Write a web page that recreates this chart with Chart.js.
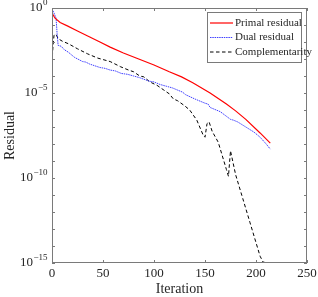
<!DOCTYPE html>
<html><head><meta charset="utf-8">
<script src="https://cdn.jsdelivr.net/npm/chart.js@4"></script>
<style>html,body{margin:0;padding:0;background:#fff;overflow:hidden}</style>
</head><body>
<canvas id="c" width="318" height="297"></canvas>
<script>
// ---- data (exponents: value = 10^exp) ----
const primalIter = [0,3,8,15,25,35,47,57,70,85,100,115,127,138,155,171,180,190,204,214];
const primalExp  = [-0.3,-0.6,-0.85,-1.05,-1.35,-1.65,-2.0,-2.3,-2.65,-3.0,-3.35,-3.75,-4.05,-4.4,-5.0,-5.65,-6.05,-6.55,-7.35,-7.95];

const dualIter = [0,2,4,5,6,9,12,16,22,30,33,37,47,52,57,62,68,74,80,86,95,100,106,112,118,126,128,131,140,150,153,155,165,175,178,182,190,198,204,210,214];
const dualExp  = [-0.05,-0.3,-0.6,-1.5,-2.2,-2.25,-2.45,-2.6,-2.9,-3.15,-3.18,-3.3,-3.5,-3.55,-3.65,-3.7,-3.85,-3.9,-4.0,-4.1,-4.3,-4.35,-4.5,-4.6,-4.7,-4.9,-4.95,-5.1,-5.35,-5.6,-5.65,-5.85,-6.1,-6.55,-6.6,-6.7,-7.0,-7.3,-7.6,-8.0,-8.3];

const compIter = [0,1,2,4,6,10,16,25,35,45,57,67,75,80,86,90,96,103,109,115,119,123,130,135,142,148,150,152,154,157,163,168,171,173,175,180,187,194,200,204,207,212];
const compExp  = [-3.2,-2.2,-1.6,-1.55,-1.8,-1.95,-2.1,-2.4,-2.7,-2.95,-3.15,-3.45,-3.65,-3.75,-4.0,-4.05,-4.35,-4.55,-4.8,-5.05,-5.35,-5.45,-5.75,-6.0,-6.6,-7.45,-7.6,-6.8,-6.7,-7.25,-7.9,-8.9,-9.5,-9.9,-8.4,-9.8,-11.2,-12.6,-13.8,-14.6,-14.95,-15.0];

const seriesNames = ['Primal residual','Dual residual','Complementarity'];
const xTickValues = [0,50,100,150,200,250];
const xTickLabels = ['0','50','100','150','200','250'];
const yTickExps   = [0,-5,-10,-15];
const yTickLabelSup = ['0','\u22125','\u221210','\u221215'];

const SERIF = '"Liberation Serif", "DejaVu Serif", serif';
const TXT = '#262626';
const AX = '#7a7a7a';

function pts(xs, es){ return xs.map((x,i)=>({x:x, y:Math.pow(10, es[i])})); }

const styles = [
  {color:'#ff0000', width:1.2, dash:[]},
  {color:'#2a2aff', width:0.9, dash:[1.5,0.8]},
  {color:'#000000', width:1, dash:[3.5,2.5]}
];

const decoPlugin = {
  id:'deco',
  afterDraw(chart){
    const ctx = chart.ctx, a = chart.chartArea;
    const xs = chart.scales.x, ys = chart.scales.y;
    ctx.save();
    // box
    ctx.strokeStyle = AX; ctx.lineWidth = 1;
    ctx.strokeRect(a.left+0.5, a.top+0.5, a.right-a.left-1, a.bottom-a.top-1);
    // x ticks
    ctx.beginPath();
    xTickValues.forEach(v=>{
      const px = Math.round(xs.getPixelForValue(v))+0.5;
      ctx.moveTo(px, a.bottom); ctx.lineTo(px, a.bottom-3);
      ctx.moveTo(px, a.top); ctx.lineTo(px, a.top+3);
    });
    // y ticks every decade
    for(let e=0;e>=-15;e--){
      const py = Math.round(ys.getPixelForValue(Math.pow(10,e)))+0.5;
      ctx.moveTo(a.left, py); ctx.lineTo(a.left+3, py);
      ctx.moveTo(a.right, py); ctx.lineTo(a.right-3, py);
    }
    ctx.stroke();
    // x tick labels
    ctx.fillStyle = TXT;
    ctx.font = '13px ' + SERIF;
    ctx.textAlign = 'center'; ctx.textBaseline = 'middle';
    xTickValues.forEach((v,i)=>{
      ctx.fillText(xTickLabels[i], xs.getPixelForValue(v), a.bottom+11);
    });
    // y tick labels with superscript
    yTickExps.forEach((e,i)=>{
      const py = ys.getPixelForValue(Math.pow(10,e));
      ctx.font = '13px ' + SERIF;
      const w1 = ctx.measureText('10').width;
      ctx.font = '9px ' + SERIF;
      const w2 = ctx.measureText(yTickLabelSup[i]).width;
      const x0 = a.left - 5 - w1 - w2;
      ctx.textAlign = 'left';
      ctx.font = '13px ' + SERIF;
      ctx.fillText('10', x0, py);
      ctx.font = '9px ' + SERIF;
      ctx.fillText(yTickLabelSup[i], x0 + w1 + 0.5, py - 5);
    });
    // axis titles
    ctx.font = '14px ' + SERIF;
    ctx.textAlign = 'center';
    ctx.fillText('Iteration', (a.left+a.right)/2, a.bottom+26);
    ctx.save();
    ctx.translate(10, (a.top+a.bottom)/2);
    ctx.rotate(-Math.PI/2);
    ctx.fillText('Residual', 0, 0);
    ctx.restore();
    // legend
    const lx = 207, ly = 12, lw = 94, lh = 50;
    ctx.fillStyle = '#fff';
    ctx.fillRect(lx, ly, lw, lh);
    ctx.strokeStyle = AX; ctx.lineWidth = 1;
    ctx.strokeRect(lx+0.5, ly+0.5, lw, lh);
    ctx.font = '11px ' + SERIF;
    ctx.textAlign = 'left'; ctx.textBaseline = 'middle';
    seriesNames.forEach((n,i)=>{
      const yy = ly + 11 + i*14.5;
      const s = styles[i];
      ctx.strokeStyle = s.color; ctx.lineWidth = s.width; ctx.setLineDash(s.dash);
      ctx.beginPath(); ctx.moveTo(lx+3, yy); ctx.lineTo(lx+26, yy); ctx.stroke();
      ctx.setLineDash([]);
      ctx.fillStyle = TXT;
      ctx.fillText(n, lx+28, yy);
    });
    ctx.restore();
  }
};

const datasets = [
  pts(primalIter, primalExp), pts(dualIter, dualExp), pts(compIter, compExp)
].map((d,i)=>({
  label: seriesNames[i], data: d,
  borderColor: styles[i].color, borderWidth: styles[i].width, borderDash: styles[i].dash,
  pointRadius: 0, tension: 0, fill: false
}));

new Chart(document.getElementById('c'), {
  type: 'line',
  data: { datasets },
  options: {
    responsive: false, animation: false, devicePixelRatio: 1,
    layout: { padding: { top: 8, right: 11, left: 0, bottom: 0 } },
    plugins: { legend: { display: false }, tooltip: { enabled: false } },
    scales: {
      x: { type: 'linear', min: 0, max: 250,
           ticks: { display: false }, grid: { display: false }, border: { display: false },
           afterFit: s => { s.height = 34; } },
      y: { type: 'logarithmic', min: 1e-15, max: 1,
           ticks: { display: false }, grid: { display: false }, border: { display: false },
           afterFit: s => { s.width = 52; } }
    }
  },
  plugins: [decoPlugin]
});
</script>
</body></html>
